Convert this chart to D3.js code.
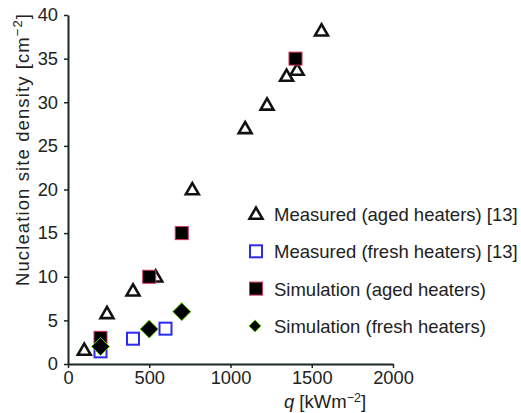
<!DOCTYPE html>
<html><head><meta charset="utf-8">
<script src="https://cdn.jsdelivr.net/npm/d3@7/dist/d3.min.js"></script>
<style>
body{margin:0;background:#fff;}
text{font-family:"Liberation Sans",Arial,sans-serif;fill:#222;}
</style></head>
<body><svg id="c" width="521" height="413"></svg>
<script>
// Data
const measuredAgedQ = [100, 240, 400, 540, 765, 1090, 1225, 1345, 1410, 1560];
const measuredAgedN = [1.6, 5.8, 8.4, 10.0, 20.0, 27.0, 29.7, 33.0, 33.7, 38.2];
const measuredFreshQ = [200, 400, 600];
const measuredFreshN = [1.45, 2.9, 4.05];
const simAgedQ = [200, 500, 700, 1400];
const simAgedN = [3.0, 10.0, 15.0, 35.0];
const simFreshQ = [200, 500, 700];
const simFreshN = [2.0, 4.0, 6.0];
const xTicks = [0, 500, 1000, 1500, 2000];
const yTicks = [0, 5, 10, 15, 20, 25, 30, 35, 40];
const legendLabels = ["Measured (aged heaters) [13]", "Measured (fresh heaters) [13]", "Simulation (aged heaters)", "Simulation (fresh heaters)"];

const svg = d3.select("#c");
const x = d3.scaleLinear().domain([0, 2000]).range([68, 393]);
const y = d3.scaleLinear().domain([0, 40]).range([364, 15]);

const axisColor = "#1b2626";
const gx = svg.append("g").attr("transform", "translate(0,364)")
  .call(d3.axisBottom(x).tickValues(xTicks).tickFormat(d3.format("d")).tickSize(4).tickPadding(3).tickSizeOuter(0));
const gy = svg.append("g").attr("transform", "translate(68,0)")
  .call(d3.axisLeft(y).tickValues(yTicks).tickFormat(d3.format("d")).tickSize(4).tickPadding(6).tickSizeOuter(0));
[gx, gy].forEach(g => {
  g.select(".domain").attr("stroke", axisColor).attr("stroke-width", 2);
  g.selectAll(".tick line").attr("stroke", axisColor).attr("stroke-width", 1.5);
  g.selectAll(".tick text").attr("font-size", 18.3).attr("font-family", "Liberation Sans, Arial, sans-serif").attr("fill", "#222");
});

// Axis titles
const yl = svg.append("text").attr("transform", "translate(29,150) rotate(-90)")
  .attr("text-anchor", "middle").attr("font-size", 18.5)
  .attr("textLength", 272).attr("lengthAdjust", "spacing");
yl.append("tspan").text("Nucleation site density [cm");
yl.append("tspan").attr("font-size", 13).attr("dy", -7).text("\u22122");
yl.append("tspan").attr("dy", 7).text("]");

const xl = svg.append("text").attr("x", 325).attr("y", 408).attr("text-anchor", "middle").attr("font-size", 18.5);
xl.append("tspan").attr("font-style", "italic").text("q");
xl.append("tspan").text(" [kWm");
xl.append("tspan").attr("font-size", 12.5).attr("dy", -6).text("\u22122");
xl.append("tspan").attr("dy", 6).text("]");

// markers
const tri = d3.symbol().type(d3.symbolTriangle).size(72);
const sq = 12, dia = 9;
function drawTri(g, cx, cy) {
  g.append("path").attr("d", tri()).attr("transform", `translate(${cx},${cy+1})`)
    .attr("fill", "none").attr("stroke", "#111").attr("stroke-width", 2.6).attr("stroke-linejoin", "miter");
}
function drawBlue(g, cx, cy) {
  g.append("rect").attr("x", cx - sq/2).attr("y", cy - sq/2).attr("width", sq).attr("height", sq)
    .attr("fill", "#fff").attr("fill-opacity", 0).attr("stroke", "#2a2af0").attr("stroke-width", 2);
}
function drawRed(g, cx, cy) {
  g.append("rect").attr("x", cx - 6.5).attr("y", cy - 6.5).attr("width", 13).attr("height", 13)
    .attr("fill", "#000").attr("stroke", "#d43058").attr("stroke-width", 1);
}
function drawDia(g, cx, cy) {
  g.append("path").attr("d", `M${cx},${cy-dia}L${cx+dia},${cy}L${cx},${cy+dia}L${cx-dia},${cy}Z`)
    .attr("fill", "#000").attr("stroke", "#5fd000").attr("stroke-width", 1);
}

const plot = svg.append("g");
measuredAgedQ.forEach((q, i) => drawTri(plot, x(q), y(measuredAgedN[i])));
measuredFreshQ.forEach((q, i) => drawBlue(plot, x(q), y(measuredFreshN[i])));
simAgedQ.forEach((q, i) => drawRed(plot, x(q), y(simAgedN[i])));
simFreshQ.forEach((q, i) => drawDia(plot, x(q), y(simFreshN[i])));

// legend
const lg = svg.append("g");
const drawers = [drawTri, drawBlue, drawRed, drawDia];
legendLabels.forEach((lab, i) => {
  const cy = 214 + i * 37.3;
  if (i === 3) {
    lg.append("path").attr("d", `M255,${cy-6}L261,${cy}L255,${cy+6}L249,${cy}Z`)
      .attr("fill", "#000").attr("stroke", "#5fd000").attr("stroke-width", 1);
  } else {
    drawers[i](lg, 256, cy);
  }
  lg.append("text").attr("x", 274).attr("y", cy + 7).attr("font-size", 18.5).text(lab);
});
</script></body></html>
